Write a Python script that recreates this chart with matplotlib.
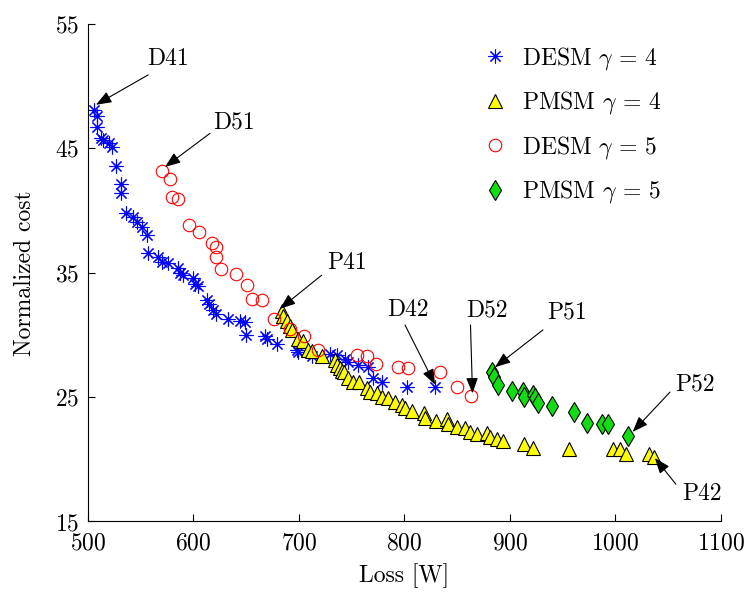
import numpy as np
import matplotlib
matplotlib.use("Agg")
import matplotlib.pyplot as plt

# =========================
# DATA
# =========================
desm4_loss = [505.7, 508.8, 508.8, 512.0, 513.9, 520.2, 523.0, 526.2, 531.3, 531.3,
              535.7, 543.0, 546.2, 550.9, 555.7, 556.6, 566.6, 569.9, 576.1, 585.6,
              587.2, 590.3, 599.8, 601.4, 604.5, 612.5, 615.0, 618.8, 621.3, 633.0,
              644.1, 648.8, 649.5, 667.8, 669.4, 678.9, 697.8, 699.3, 712.0, 729.4,
              735.7, 743.6, 746.7, 756.2, 765.7, 770.4, 778.4, 802.5, 829.0]
desm4_cost = [48.1, 47.6, 46.7, 45.8, 45.7, 45.4, 45.1, 43.6, 42.1, 41.4,
              39.8, 39.5, 39.1, 38.7, 38.0, 36.6, 36.3, 35.9, 35.8, 35.4,
              35.0, 34.8, 34.6, 34.1, 33.9, 32.8, 32.5, 32.0, 31.7, 31.3,
              31.1, 31.0, 30.0, 29.9, 29.7, 29.3, 28.8, 28.6, 28.3, 28.5,
              28.4, 28.1, 27.8, 27.6, 27.4, 26.5, 26.2, 25.8, 25.8]

pmsm4_loss = [683.6, 685.1, 688.3, 691.5, 693.0, 699.3, 704.1, 708.8, 712.0, 721.5,
              734.1, 735.7, 738.9, 741.0, 743.0, 746.7, 751.4, 757.2, 764.2, 767.3,
              773.6, 778.4, 784.6, 791.0, 797.4, 800.5, 806.8, 818.5, 819.4, 829.9,
              840.0, 841.6, 850.1, 857.3, 862.1, 869.0, 878.5, 881.0, 887.4, 893.7,
              913.3, 921.5, 956.2, 997.5, 1004.0, 1010.0, 1032.0, 1036.5]
pmsm4_cost = [31.9, 31.5, 31.1, 30.7, 30.4, 29.7, 29.5, 28.8, 28.7, 28.3,
              28.0, 27.6, 27.3, 27.1, 27.0, 26.5, 26.2, 26.2, 25.7, 25.4,
              25.3, 25.0, 24.9, 24.6, 24.4, 24.1, 23.9, 23.7, 23.3, 23.1,
              23.2, 22.8, 22.6, 22.5, 22.2, 22.0, 22.1, 21.8, 21.6, 21.5,
              21.2, 20.9, 20.8, 20.8, 20.8, 20.4, 20.4, 20.2]

desm5_loss = [569.9, 577.7, 579.3, 585.6, 596.0, 604.9, 617.2, 621.3, 621.3, 626.1,
              640.3, 650.4, 655.2, 664.6, 676.3, 691.5, 704.5, 718.0, 754.7, 764.2,
              773.0, 794.2, 803.6, 834.0, 850.1, 863.0]
desm5_cost = [43.2, 42.5, 41.1, 40.9, 38.8, 38.3, 37.4, 37.1, 36.3, 35.3,
              34.9, 34.0, 32.9, 32.8, 31.3, 30.5, 29.9, 28.8, 28.4, 28.3,
              27.7, 27.4, 27.3, 27.0, 25.8, 25.1]

pmsm5_loss = [882.6, 885.1, 888.3, 901.6, 912.0, 913.5, 921.5, 923.7, 926.9, 939.5,
              960.7, 973.3, 986.9, 993.2, 1012.2]
pmsm5_cost = [27.0, 26.6, 26.0, 25.5, 25.4, 25.0, 25.2, 24.9, 24.5, 24.3,
              23.8, 22.9, 22.8, 22.8, 21.9]

# label, arrow tip (data), text position (data), arrow tail (data)
ANNOT_LABELS = ['D41', 'D51', 'P41', 'D42', 'D52', 'P51', 'P52', 'P42']
ANNOT_TIPS = [(507.5, 48.5), (573.0, 43.5), (682.0, 32.1), (829.0, 26.0),
              (864.5, 25.3), (885.8, 27.4), (1016.3, 22.2), (1037.4, 20.1)]
ANNOT_TEXT = [(575.7, 52.2), (638.4, 47.1), (745.2, 35.8), (803.6, 32.0),
              (878.2, 32.0), (954.0, 31.8), (1075.4, 26.0), (1082.0, 17.2)]
ANNOT_TAIL = [(557.0, 50.9), (615.6, 46.2), (721.5, 34.8), (800.5, 30.8),
              (862.6, 30.8), (931.3, 30.4), (1051.7, 25.4), (1057.3, 18.0)]

# =========================
# STYLE
# =========================
plt.rcParams['font.family'] = ['cmr10', 'DejaVu Serif']
plt.rcParams['mathtext.fontset'] = 'cm'
plt.rcParams['axes.formatter.use_mathtext'] = True
FS = 17


def main():
    fig = plt.figure(figsize=(7.49, 5.92), dpi=100)
    ax = fig.add_axes([0.1175, 0.1191, 0.845, 0.8405])

    ax.plot(desm4_loss, desm4_cost, ls='none', marker=(8, 2, 0), ms=10,
            mec='b', mew=0.8, label=r'DESM $\gamma\,=\,4$')
    ax.plot(pmsm4_loss, pmsm4_cost, ls='none', marker='^', ms=10,
            mfc='yellow', mec='k', mew=0.8, label=r'PMSM $\gamma\,=\,4$')
    ax.plot(desm5_loss, desm5_cost, ls='none', marker='o', ms=9,
            mfc='none', mec='r', mew=0.8, label=r'DESM $\gamma\,=\,5$')
    ax.plot(pmsm5_loss, pmsm5_cost, ls='none', marker='d', ms=10,
            mfc='#11dd11', mec='k', mew=0.8, label=r'PMSM $\gamma\,=\,5$')

    # arrows + labels
    for lab, tip, txt, tail in zip(ANNOT_LABELS, ANNOT_TIPS, ANNOT_TEXT, ANNOT_TAIL):
        ax.annotate('', xy=tip, xytext=tail,
                    arrowprops=dict(arrowstyle='-|>,head_length=0.95,head_width=0.36',
                                    color='k', lw=0.8, shrinkA=0, shrinkB=0,
                                    mutation_scale=10))
        ax.text(txt[0], txt[1], lab, fontsize=FS, ha='center', va='center')

    ax.set_xlim(500, 1100)
    ax.set_ylim(15, 55)
    ax.set_xticks([500, 600, 700, 800, 900, 1000, 1100])
    ax.set_yticks([15, 25, 35, 45, 55])
    for s in ['top', 'right']:
        ax.spines[s].set_visible(False)
    ax.spines['left'].set_linewidth(0.8)
    ax.spines['bottom'].set_linewidth(0.8)
    ax.tick_params(direction='in', length=5, width=0.8, labelsize=FS)
    ax.tick_params(axis='x', pad=8)
    ax.tick_params(axis='y', pad=6)
    ax.set_xlabel('Loss [W]', fontsize=FS, labelpad=6)
    ax.set_ylabel('Normalized cost', fontsize=FS, labelpad=14)

    ax.legend(loc='upper left', bbox_to_anchor=(0.645, 0.924),
              bbox_transform=fig.transFigure, frameon=False, fontsize=FS,
              borderpad=0, borderaxespad=0, handlelength=1.0,
              handletextpad=0.64, labelspacing=0.74)

    fig.savefig('out.png', dpi=100)
    plt.close(fig)


if __name__ == "__main__":
    main()
